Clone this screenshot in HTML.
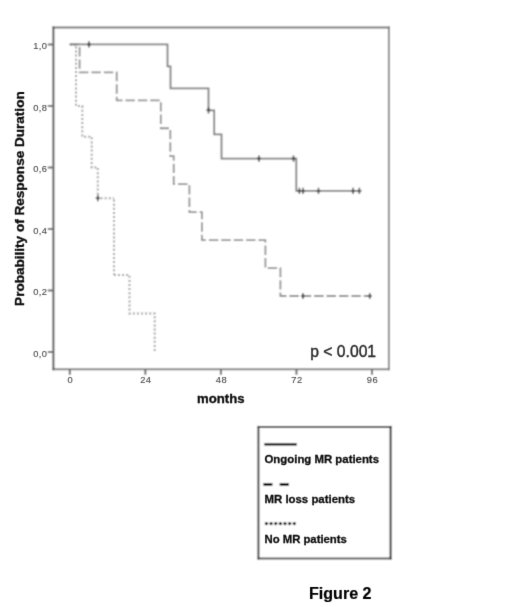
<!DOCTYPE html>
<html><head><meta charset="utf-8"><style>
html,body{margin:0;padding:0;background:#fff;width:520px;height:607px;overflow:hidden}
svg{display:block;will-change:transform}
text{font-family:"Liberation Sans",sans-serif}
</style></head><body>
<svg width="520" height="607" viewBox="0 0 520 607">
<defs><filter id="bl" x="0" y="0" width="520" height="607" filterUnits="userSpaceOnUse"><feConvolveMatrix order="3" kernelMatrix="1 2 1 2 4 2 1 2 1" divisor="16" edgeMode="duplicate" preserveAlpha="false"/></filter><filter id="bt" x="0" y="0" width="520" height="607" filterUnits="userSpaceOnUse"><feConvolveMatrix order="3" kernelMatrix="0 1 0 1 8 1 0 1 0" divisor="12" edgeMode="duplicate" preserveAlpha="false"/></filter></defs>
<rect x="0" y="0" width="520" height="607" fill="#fff"/>
<g filter="url(#bl)">
<rect x="0" y="0" width="520" height="607" fill="#fff"/>
<g stroke-width="2" stroke-linecap="square" fill="none"><path stroke="#8c8c8c" d="M388.9 27.6V369.3"/><path stroke="#868686" d="M53.4 369.3H388.9"/><path stroke="#7a7a7a" d="M53.4 27.6H388.9"/><path stroke="#585858" d="M53.4 27.6V369.3"/></g>
<g stroke="#6a6a6a" stroke-width="2.0"><path d="M47.8 44.4H53.4M47.8 105.9H53.4M47.8 167.4H53.4M47.8 228.9H53.4M47.8 290.4H53.4M47.8 351.9H53.4"/><path d="M69.8 369.2V374.8M145.35 369.2V374.8M220.9 369.2V374.8M296.46 369.2V374.8M372.01 369.2V374.8"/></g>
<g fill="none">
<path stroke="#a2a2a2" stroke-width="2.0" stroke-dasharray="2 2.1" d="M69.8 44.4H76V105.9H82.3V136.65H91.71V167.4H97.79V198.15H114"/>
<path stroke="#a2a2a2" stroke-width="2.0" stroke-dasharray="2 2.1" stroke-dashoffset="2.65" d="M114 198.15V275.02"/>
<path stroke="#a2a2a2" stroke-width="2.0" stroke-dasharray="2 2.1" stroke-dashoffset="0.12" d="M114 275.02H129.49V313.46H154.7V351.9"/>
<path stroke="#929292" stroke-width="1.8" stroke-dasharray="9.4 3" d="M69.8 44.4H79.59V72.35H116.71V100.31H160.81V128.26H170.32V156.22H173.72V184.17H189.39V212.13H201.89V240.08H265.39V268.04H280.4V295.99H369.71"/>
<path stroke="#7e7e7e" stroke-width="1.8" d="M69.8 44.4H167.51V66.36H170.5V88.33H208.5V110.29H214.2V134.45H221.5V158.61H296.3V190.83H359.51"/>
</g>
<path fill="none" stroke="#404040" stroke-width="1.5" d="M89 41.3V47.5M86.9 44.4H91.1M208.5 107.19V113.39M206.4 110.29H210.6M258.9 155.51V161.71M256.8 158.61H261M293.5 155.51V161.71M291.4 158.61H295.6M299.42 187.73V193.93M297.32 190.83H301.52M303.1 187.73V193.93M301 190.83H305.2M318.49 187.73V193.93M316.39 190.83H320.59M353.09 187.73V193.93M350.99 190.83H355.19M359.38 187.73V193.93M357.28 190.83H361.48M303 292.89V299.09M300.9 295.99H305.1M369.71 292.89V299.09M367.61 295.99H371.81M97.79 195.05V201.25M95.69 198.15H99.89"/>
<g stroke-width="2" stroke-linecap="square" fill="none"><path stroke="#4a4a4a" d="M258.4 426.9H390.6"/><path stroke="#5a5a5a" d="M258.4 558.4H390.6"/><path stroke="#333" d="M390.6 426.9V558.4"/><path stroke="#444" d="M258.4 426.9V558.4"/></g>
<path d="M264.4 444.3H296.7" stroke="#000" stroke-width="2.6"/>
<path d="M263.4 484.4H272.4M279.7 484.4H288.9" stroke="#000" stroke-width="2.6"/>
<g fill="#000"><circle cx="266.45" cy="523.6" r="1.65"/><circle cx="271.09" cy="523.6" r="1.65"/><circle cx="275.73" cy="523.6" r="1.65"/><circle cx="280.37" cy="523.6" r="1.65"/><circle cx="285.01" cy="523.6" r="1.65"/><circle cx="289.65" cy="523.6" r="1.65"/><circle cx="294.29" cy="523.6" r="1.65"/></g>
</g>
<g filter="url(#bt)">
<g fill="#505050" stroke="#505050" stroke-width="0.15" font-size="9.3" letter-spacing="0.4" text-anchor="end"><text x="47.3" y="49">1,0</text><text x="47.3" y="110.5">0,8</text><text x="47.3" y="172">0,6</text><text x="47.3" y="233.5">0,4</text><text x="47.3" y="295">0,2</text><text x="47.3" y="356.5">0,0</text></g>
<g fill="#505050" stroke="#505050" stroke-width="0.15" font-size="9.3" letter-spacing="0.5" text-anchor="middle"><text x="70.3" y="383.3">0</text><text x="145.85" y="383.3">24</text><text x="221.4" y="383.3">48</text><text x="296.96" y="383.3">72</text><text x="372.51" y="383.3">96</text></g>
<text transform="translate(24,305.9) rotate(-90)" font-size="13" font-weight="bold" fill="#111" stroke="#111" stroke-width="0.35" textLength="214.6" lengthAdjust="spacingAndGlyphs">Probability of Response Duration</text>
<text x="197" y="403" font-size="13" font-weight="bold" fill="#111" stroke="#111" stroke-width="0.35" textLength="47.5" lengthAdjust="spacingAndGlyphs">months</text>
<text x="310.3" y="356.7" font-size="16.2" fill="#2a2a2a" stroke="#2a2a2a" stroke-width="0.4" textLength="65.8" lengthAdjust="spacingAndGlyphs">p &lt; 0.001</text>
<g font-size="10.5" font-weight="bold" fill="#111" stroke="#111" stroke-width="0.3"><text x="264.5" y="462.8" textLength="114.5" lengthAdjust="spacingAndGlyphs">Ongoing MR patients</text><text x="264.5" y="503.3" textLength="90.6" lengthAdjust="spacingAndGlyphs">MR loss patients</text><text x="264.5" y="543" textLength="82.3" lengthAdjust="spacingAndGlyphs">No MR patients</text></g>
<text x="309" y="598.5" font-size="16" font-weight="bold" fill="#000" stroke="#000" stroke-width="0.2" textLength="62.5" lengthAdjust="spacingAndGlyphs">Figure 2</text>
</g>
</svg>
</body></html>
